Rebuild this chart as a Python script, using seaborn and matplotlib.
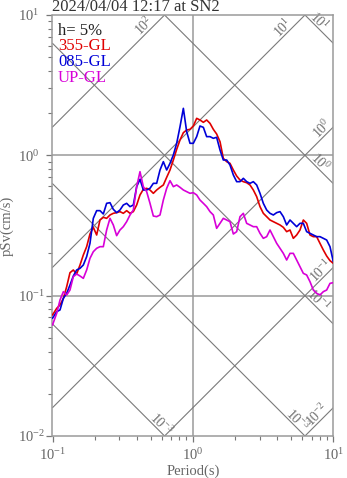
import numpy as np
import pandas as pd
import matplotlib
matplotlib.use("Agg")
import matplotlib.pyplot as plt
import seaborn as sns
from matplotlib.ticker import LogLocator, LogFormatterMathtext, NullFormatter

# ---------------- data ----------------
period = [0.100, 0.1071, 0.1131, 0.1195, 0.1262, 0.1332, 0.1407, 0.1486, 0.1570, 0.1658,
          0.1751, 0.1849, 0.1953, 0.2063, 0.2179, 0.2301, 0.2430, 0.2567, 0.2711, 0.2864,
          0.3024, 0.3194, 0.3374, 0.3564, 0.3764, 0.3976, 0.4199, 0.4436, 0.4685, 0.4948,
          0.5227, 0.5520, 0.5831, 0.6159, 0.6505, 0.6870, 0.7257, 0.7665, 0.8095, 0.8551,
          0.9029, 0.9535, 1.007, 1.064, 1.123, 1.187, 1.253, 1.324, 1.398, 1.476,
          1.560, 1.647, 1.740, 1.837, 1.941, 2.050, 2.165, 2.287, 2.415, 2.551,
          2.694, 2.846, 3.006, 3.174, 3.353, 3.541, 3.740, 3.951, 4.172, 4.407,
          4.654, 4.916, 5.192, 5.483, 5.791, 6.117, 6.460, 6.823, 7.206, 7.611,
          8.038, 8.492, 8.968, 9.473, 10.0]

sv_355 = [0.0728, 0.0812, 0.0858, 0.0957, 0.1159, 0.1458, 0.1524, 0.1427, 0.1654, 0.1949,
          0.2234, 0.2751, 0.3068, 0.2706, 0.3461, 0.3616, 0.3557, 0.3757, 0.3862, 0.3905,
          0.3970, 0.3862, 0.4035, 0.3862, 0.3970, 0.4426, 0.5218, 0.5726, 0.5821, 0.5662,
          0.5362, 0.5662, 0.5916, 0.6147, 0.6970, 0.7862, 0.9263, 1.104, 1.286, 1.450,
          1.515, 1.532, 1.618, 1.835, 1.786, 1.719, 1.786, 1.690, 1.532, 1.419,
          1.251, 0.9519, 0.9012, 0.8770, 0.7862, 0.7124, 0.6671, 0.6491, 0.6384, 0.6147,
          0.5662, 0.5076, 0.4307, 0.3862, 0.3655, 0.3461, 0.3368, 0.3277, 0.3189, 0.3068,
          0.2858, 0.2937, 0.2562, 0.2706, 0.2937, 0.3461, 0.3277, 0.2706, 0.2633, 0.2633,
          0.2360, 0.2115, 0.1917, 0.1776, 0.1700]

sv_085 = [0.0690, 0.0769, 0.0791, 0.0957, 0.1039, 0.1191, 0.1381, 0.1524, 0.1566, 0.1654,
          0.1897, 0.2360, 0.3557, 0.4035, 0.4035, 0.3819, 0.4550, 0.4600, 0.4123, 0.3905,
          0.4077, 0.4426, 0.4550, 0.4307, 0.4426, 0.5980, 0.6745, 0.5662, 0.5662, 0.5821,
          0.6316, 0.6316, 0.7862, 0.9012, 0.7862, 0.8770, 1.006, 1.218, 1.600, 2.162,
          1.475, 1.218, 1.218, 1.359, 1.618, 1.583, 1.359, 1.359, 1.322, 1.344,
          1.091, 0.9263, 0.9263, 0.8533, 0.7244, 0.6491, 0.6491, 0.6857, 0.6491, 0.6316,
          0.6491, 0.6147, 0.5362, 0.4550, 0.4077, 0.3862, 0.3757, 0.3905, 0.3970, 0.3655,
          0.3189, 0.3461, 0.3277, 0.3102, 0.3277, 0.3277, 0.2858, 0.2780, 0.2706, 0.2633,
          0.2633, 0.2562, 0.2492, 0.2234, 0.1747]

sv_up = [0.0618, 0.0748, 0.0931, 0.1068, 0.1011, 0.1097, 0.1366, 0.1427, 0.1381, 0.1329,
         0.1524, 0.1845, 0.2058, 0.2175, 0.2234, 0.2234, 0.2937, 0.3557, 0.3189, 0.2677,
         0.2937, 0.3102, 0.3368, 0.3757, 0.4077, 0.5980, 0.7648, 0.5980, 0.5510, 0.4550,
         0.3695, 0.3655, 0.3757, 0.4805, 0.5821, 0.6598, 0.5980, 0.6147, 0.5916, 0.5662,
         0.5510, 0.5362, 0.5420, 0.5218, 0.4805, 0.4550, 0.4307, 0.3970, 0.3757, 0.3019,
         0.3277, 0.3557, 0.3461, 0.3368, 0.2751, 0.2858, 0.3655, 0.3862, 0.3277, 0.3189,
         0.3102, 0.3102, 0.2780, 0.2562, 0.2633, 0.2937, 0.2633, 0.2360, 0.2175, 0.2002,
         0.1795, 0.2002, 0.2002, 0.1795, 0.1609, 0.1442, 0.1404, 0.1258, 0.1097, 0.1039,
         0.1011, 0.1068, 0.1097, 0.1224, 0.1238]

components = ["355-GL", "085-GL", "UP-GL"]
comp_colors = ["#e00000", "#0000d8", "#d800d8"]

accel_levels = [1e-2, 1e-1, 1e0, 1e1, 1e2]      # cm/s^2 (ascending lines)
disp_levels = [1e-3, 1e-2, 1e-1, 1e0, 1e1]      # cm (descending lines)

# label: (level, period where placed, text)
accel_labels = [(1e2, 0.479, r"$\mathdefault{10^{2}}$"),
                (1e1, 4.68, r"$\mathdefault{10^{1}}$"),
                (1e0, 8.87, r"$\mathdefault{10^{0}}$"),
                (1e-1, 8.7, r"$\mathdefault{10^{-1}}$"),
                (1e-2, 8.17, r"$\mathdefault{10^{-2}}$")]
disp_labels = [(1e1, 7.54, r"$\mathdefault{10^{1}}$"),
               (1e0, 7.66, r"$\mathdefault{10^{0}}$"),
               (1e-1, 7.4, r"$\mathdefault{10^{-1}}$"),
               (1e-3, 0.564, r"$\mathdefault{10^{-3}}$"),
               (1e-2, 5.25, r"$\mathdefault{10^{-3}}$")]

title = "2024/04/04 12:17 at SN2"
damping_text = "h= 5%"

# ---------------- style ----------------
sns.set_theme(style="white")
plt.rcParams["font.family"] = ["Liberation Serif", "DejaVu Serif"]
plt.rcParams["mathtext.fontset"] = "custom"
plt.rcParams["mathtext.rm"] = "Liberation Serif"
plt.rcParams["mathtext.it"] = "Liberation Serif:italic"
plt.rcParams["mathtext.bf"] = "Liberation Serif:bold"

W, H = 347, 478
fig = plt.figure(figsize=(W / 100, H / 100), dpi=100)
ax_l, ax_r, ax_t, ax_b = 52.5, 333.3, 15.0, 436.0
aw, ah = ax_r - ax_l, ax_b - ax_t
ax = fig.add_axes([ax_l / W, 1 - ax_b / H, aw / W, ah / H])

ax.set_xscale("log")
ax.set_yscale("log")
ax.set_xlim(0.1, 10)
ax.set_ylim(0.01, 10)

grid_col = "#9a9a9a"
diag_col = "#7a7a7a"

# decade grid
ax.axvline(1.0, color=grid_col, lw=1.1, zorder=1)
for yv in [0.1, 1.0]:
    ax.axhline(yv, color=grid_col, lw=1.1, zorder=1)

two_pi = 2 * np.pi
tx = np.array([0.1, 10.0])
for a in accel_levels:
    ax.plot(tx, a * tx / two_pi, color=diag_col, lw=0.8, zorder=1)
for d in disp_levels:
    ax.plot(tx, two_pi * d / tx, color=diag_col, lw=0.8, zorder=1)

lab_kw = dict(color="#707070", fontsize=10, ha="center", va="baseline",
              rotation_mode="anchor", zorder=2, clip_on=False)
for a, tp, s in accel_labels:
    ax.text(tp, a * tp / two_pi * 1.03, s, rotation=45, **lab_kw)
for d, tp, s in disp_labels:
    ax.text(tp, two_pi * d / tp * 1.03, s, rotation=-45, **lab_kw)

# spectra
df = pd.DataFrame({
    "period": period * 3,
    "psv": sv_355 + sv_085 + sv_up,
    "comp": [components[0]] * len(period) + [components[1]] * len(period) + [components[2]] * len(period),
})
sns.lineplot(data=df, x="period", y="psv", hue="comp", hue_order=components,
             palette=dict(zip(components, comp_colors)), estimator=None, sort=False,
             legend=False, lw=1.2, ax=ax, zorder=3)

# axes cosmetics
for sp in ax.spines.values():
    sp.set_color(grid_col)
    sp.set_linewidth(1.1)
ax.xaxis.set_major_locator(LogLocator(base=10, numticks=10))
ax.yaxis.set_major_locator(LogLocator(base=10, numticks=10))
ax.xaxis.set_minor_locator(LogLocator(base=10, subs=np.arange(2, 10), numticks=20))
ax.yaxis.set_minor_locator(LogLocator(base=10, subs=np.arange(2, 10), numticks=20))
ax.xaxis.set_major_formatter(LogFormatterMathtext())
ax.yaxis.set_major_formatter(LogFormatterMathtext())
ax.xaxis.set_minor_formatter(NullFormatter())
ax.yaxis.set_minor_formatter(NullFormatter())
ax.tick_params(which="both", direction="out", color="#777777", labelcolor="#666666",
               bottom=True, left=True, top=False, right=False)
ax.tick_params(which="major", length=4, width=0.9, labelsize=10.5)
ax.tick_params(which="minor", length=3, width=0.8)
ax.tick_params(axis="x", which="major", pad=4)
# y tick labels are left-aligned starting at about x = 18 px
ax.tick_params(axis="y", which="major", pad=(ax_l - 18) * 0.72 - 4)
for lbl in ax.get_yticklabels():
    lbl.set_horizontalalignment("left")

ax.set_xlabel("Period(s)", color="#666666", fontsize=10.5)
ax.set_ylabel("pSv(cm/s)", color="#666666", fontsize=10.5)
ax.xaxis.set_label_coords(0.5, -(465 - ax_b) / ah)
ax.yaxis.set_label_coords(-(ax_l - 13.5) / aw, 0.5)

fig.text(ax_l / W, 1 - 11 / H, title, ha="left", va="baseline", fontsize=12, color="#333333")

x0 = (58 - ax_l) / aw
baselines = [35, 50.5, 66, 81.5]
texts = [damping_text] + components
cols = ["#222222"] + comp_colors
for t, col, by in zip(texts, cols, baselines):
    ax.text(x0, 1 - (by - ax_t) / ah, t, transform=ax.transAxes, ha="left", va="baseline",
            fontsize=12, color=col, zorder=4)

fig.savefig("out.png", dpi=100)
